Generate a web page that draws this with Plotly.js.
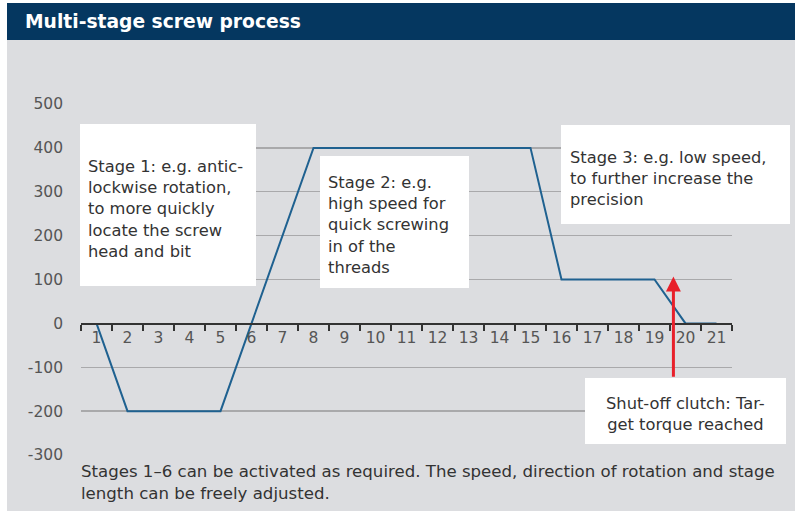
<!DOCTYPE html>
<html>
<head>
<meta charset="utf-8">
<script src="https://cdn.plot.ly/plotly-3.0.1.min.js"></script>
<style>
html,body{margin:0;padding:0;background:#fff;}
#chart{width:795px;height:511px;}
</style>
</head>
<body>
<div id="chart"></div>
<script>
// ---- data ----
const categories = ['1','2','3','4','5','6','7','8','9','10','11','12','13','14','15','16','17','18','19','20','21'];
const stageX = ['1','2','5','8','15','16','19','20','21'];
const speed = [0, -200, -200, 400, 400, 100, 100, 0, 0];
const yTicks = [-300, -200, -100, 0, 100, 200, 300, 400, 500];
const titleText = 'Multi-stage screw process';
const stage1Text = 'Stage 1: e.g. antic-<br>lockwise rotation,<br>to more quickly<br>locate the screw<br>head and bit';
const stage2Text = 'Stage 2: e.g.<br>high speed for<br>quick screwing<br>in of the<br>threads';
const stage3Text = 'Stage 3: e.g. low speed,<br>to further increase the<br>precision';
const clutchText = 'Shut-off clutch: Tar-<br>get torque reached';
const noteText = 'Stages 1–6 can be activated as required. The speed, direction of rotation and stage<br>length can be freely adjusted.';
const clutchPos = 18.61;   // category index of the clutch arrow
const clutchTop = 107;
const clutchBottom = -125;

// ---- layout helpers (pixel -> paper) ----
const L = 81, R = 732, T = 104, B = 455;
const W = R - L, H = B - T;
const px = x => (x - L) / W;
const py = y => (B - y) / H;

const font = 'DejaVu Sans, sans-serif';

const shapes = [
  {type:'rect', xref:'paper', yref:'paper', x0:px(-20), x1:px(7), y0:py(530), y1:py(-20), fillcolor:'#ffffff', line:{width:0}, layer:'below'},
  {type:'rect', xref:'paper', yref:'paper', x0:px(-20), x1:px(820), y0:py(3), y1:py(-20), fillcolor:'#ffffff', line:{width:0}, layer:'below'},
  {type:'rect', xref:'paper', yref:'paper', x0:px(7), x1:px(820), y0:py(40), y1:py(3), fillcolor:'#053760', line:{width:0}, layer:'below'},
  {type:'rect', xref:'paper', yref:'paper', x0:px(80), x1:px(256), y0:py(286), y1:py(124), fillcolor:'#ffffff', line:{width:0}, layer:'above'},
  {type:'rect', xref:'paper', yref:'paper', x0:px(320), x1:px(469), y0:py(288), y1:py(156), fillcolor:'#ffffff', line:{width:0}, layer:'above'},
  {type:'rect', xref:'paper', yref:'paper', x0:px(561), x1:px(790), y0:py(224), y1:py(125), fillcolor:'#ffffff', line:{width:0}, layer:'above'},
  {type:'rect', xref:'paper', yref:'paper', x0:px(585), x1:px(786), y0:py(444), y1:py(378), fillcolor:'#ffffff', line:{width:0}, layer:'above'}
];

const txt = (text, x, y, opts) => Object.assign({
  text: text, xref:'paper', yref:'paper', x:px(x), y:py(y),
  xanchor:'left', yanchor:'top', align:'left', showarrow:false,
  font:{family:font, size:16.3, color:'#333333'}
}, opts || {});

const annotations = [
  txt('<b>' + titleText + '</b>', 23, 9, {font:{family:font, size:18.7, color:'#ffffff'}}),
  txt(stage1Text, 86, 154.5),
  txt(stage2Text, 326, 170.5),
  txt(stage3Text, 568, 146),
  txt(clutchText, 685.5, 391.5, {xanchor:'center', align:'center'}),
  txt(noteText, 79, 460, {font:{family:font, size:16.6, color:'#333333'}}),
  {x:clutchPos, y:clutchTop, ax:clutchPos, ay:clutchBottom, xref:'x', yref:'y', axref:'x', ayref:'y',
   text:'', showarrow:true, arrowhead:2, arrowsize:1, arrowwidth:3, arrowcolor:'#e8202a', standoff:0}
];

const trace = {
  x: stageX, y: speed, type:'scatter', mode:'lines',
  line:{color:'#1f6190', width:2}, hoverinfo:'skip', showlegend:false
};

const layout = {
  width:795, height:511,
  margin:{l:L, r:795-R, t:T, b:511-B, pad:0},
  paper_bgcolor:'#dcdde0', plot_bgcolor:'#dcdde0',
  showlegend:false,
  xaxis:{
    type:'category', categoryorder:'array', categoryarray:categories,
    range:[-0.5, 20.5], tickson:'boundaries', ticks:'outside', ticklen:6, tickwidth:1.2,
    tickcolor:'#333333', showline:true, linecolor:'#333333', linewidth:1.5,
    anchor:'free', position:py(323), showgrid:false, zeroline:false,
    tickfont:{family:font, size:15.5, color:'#555555'}, fixedrange:true
  },
  yaxis:{
    range:[-300, 500], tickvals:yTicks, ticktext:yTicks.map(String),
    showgrid:true, gridcolor:'#a9a9ab', gridwidth:1.3, zeroline:false, showline:false,
    ticks:'', ticklabelstandoff:17,
    tickfont:{family:font, size:15.5, color:'#555555'}, fixedrange:true
  },
  shapes:shapes,
  annotations:annotations
};

Plotly.newPlot('chart', [trace], layout, {displayModeBar:false, staticPlot:true});
</script>
</body>
</html>
